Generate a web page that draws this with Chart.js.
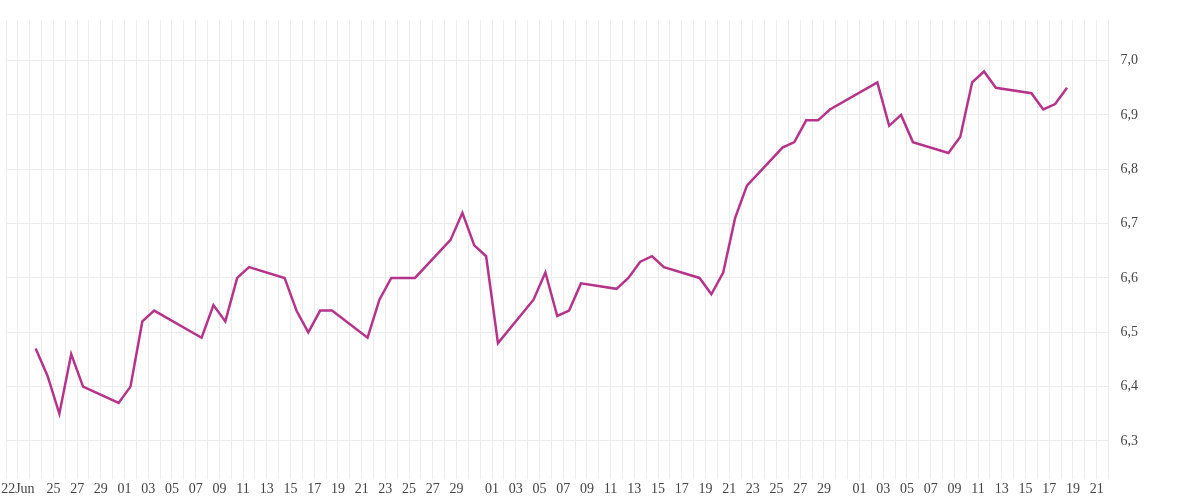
<!DOCTYPE html>
<html>
<head>
<meta charset="utf-8">
<script src="https://cdn.jsdelivr.net/npm/chart.js@4"></script>
<style>
  html, body { margin: 0; padding: 0; background: #fff; }
  #wrap { width: 1200px; height: 500px; }
</style>
</head>
<body>
<div id="wrap"><canvas id="chart"></canvas></div>
<script>
// trading days (2023) and closing values
const dates = [
  "06-23", "06-24", "06-25", "06-26", "06-27", "06-30",
  "07-01", "07-02", "07-03", "07-07", "07-08", "07-09", "07-10", "07-11",
  "07-14", "07-15", "07-16", "07-17", "07-18", "07-21", "07-22", "07-23",
  "07-25", "07-28", "07-29", "07-30", "07-31",
  "08-01", "08-04", "08-05", "08-06", "08-07", "08-08", "08-11", "08-12",
  "08-13", "08-14", "08-15", "08-18", "08-19", "08-20", "08-21", "08-22",
  "08-25", "08-26", "08-27", "08-28", "08-29",
  "09-02", "09-03", "09-04", "09-05", "09-08", "09-09", "09-10", "09-11",
  "09-12", "09-15", "09-16", "09-17", "09-18",
];
const values = [
  6.47, 6.42, 6.35, 6.46, 6.40, 6.37,
  6.40, 6.52, 6.54, 6.49, 6.55, 6.52, 6.60, 6.62,
  6.60, 6.54, 6.50, 6.54, 6.54, 6.49, 6.56, 6.60,
  6.60, 6.67, 6.72, 6.66, 6.64,
  6.48, 6.56, 6.61, 6.53, 6.54, 6.59, 6.58, 6.60,
  6.63, 6.64, 6.62, 6.60, 6.57, 6.61, 6.71, 6.77,
  6.84, 6.85, 6.89, 6.89, 6.91,
  6.96, 6.88, 6.90, 6.85, 6.83, 6.86, 6.96, 6.98,
  6.95, 6.94, 6.91, 6.92, 6.95,
];
const yTicks = [6.3, 6.4, 6.5, 6.6, 6.7, 6.8, 6.9, 7.0];

const YEAR = 2023;
const START = Date.UTC(YEAR, 5, 22); // 22 Jun = day 0
const DAY = 86400000;
const monthNames = ["Jan", "Feb", "Mar", "Apr", "May", "Jun", "Jul", "Aug", "Sep", "Oct", "Nov", "Dec"];

function dayIndex(md) {
  const [m, d] = md.split("-").map(Number);
  return (Date.UTC(YEAR, m - 1, d) - START) / DAY;
}

// points sit in the middle of their day
const points = dates.map((md, i) => ({ x: dayIndex(md) + 0.5, y: values[i] }));

function dayLabel(v) {
  const dt = new Date(START + v * DAY);
  const d = dt.getUTCDate();
  if (v === 0) return String(d) + monthNames[dt.getUTCMonth()];
  if (v < 2) return "";
  if (d % 2 === 1 && d !== 31) return String(d).padStart(2, "0");
  return "";
}

const font = { family: "'Liberation Serif', 'DejaVu Serif', serif", size: 14 };

new Chart(document.getElementById("chart"), {
  type: "line",
  data: {
    datasets: [{
      data: points,
      borderColor: "#B5338A",
      borderWidth: 2.5,
      pointRadius: 0,
      tension: 0,
      fill: false,
    }],
  },
  options: {
    responsive: true,
    maintainAspectRatio: false,
    animation: false,
    layout: { padding: { left: 6, right: 50, top: 12, bottom: 0 } },
    plugins: { legend: { display: false }, tooltip: { enabled: false } },
    scales: {
      x: {
        type: "linear",
        min: -1,
        max: 92,
        border: { display: false },
        grid: { color: "#ececec", lineWidth: 1, tickLength: 10 },
        afterBuildTicks: (axis) => {
          const t = [];
          for (let v = -1; v <= 92; v++) t.push({ value: v });
          axis.ticks = t;
        },
        ticks: {
          autoSkip: false,
          maxRotation: 0,
          color: "#444",
          font: font,
          padding: 2,
          callback: (v) => dayLabel(v),
        },
      },
      y: {
        position: "right",
        min: 6.248,
        max: 7.074,
        border: { display: false },
        grid: { color: "#ececec", lineWidth: 1, tickLength: 0 },
        afterBuildTicks: (axis) => {
          axis.ticks = yTicks.map((v) => ({ value: v }));
        },
        ticks: {
          color: "#444",
          font: font,
          padding: 12,
          callback: (v) => Number(v).toFixed(1).replace(".", ","),
        },
      },
    },
  },
});
</script>
</body>
</html>
